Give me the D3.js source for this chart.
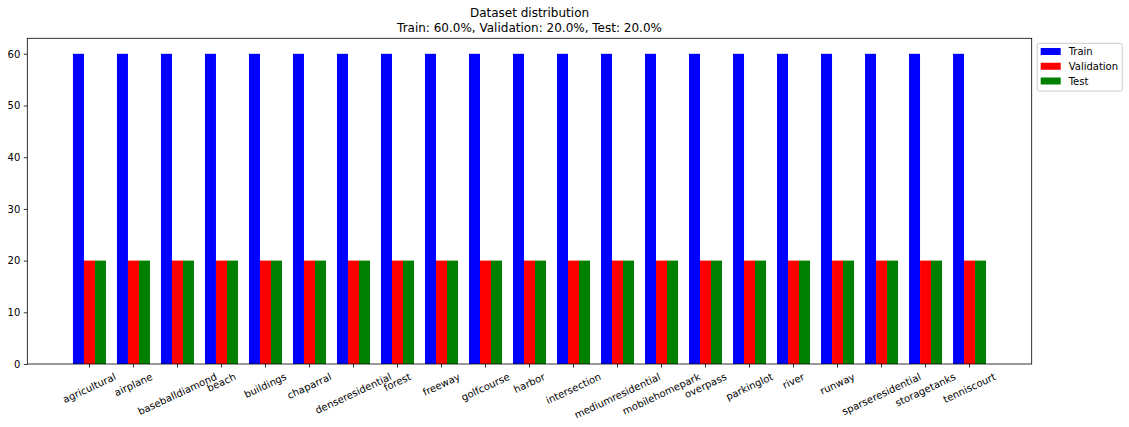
<!DOCTYPE html>
<html>
<head>
<meta charset="utf-8">
<script src="https://cdn.jsdelivr.net/npm/d3@7"></script>
<style>
    body { margin: 0; background: white; }
    text { font-family: "DejaVu Sans", sans-serif; }
</style>
</head>
<body>
<div id="chart"></div>
<script>
// data
const categories = ["agricultural", "airplane", "baseballdiamond", "beach", "buildings", "chaparral",
    "denseresidential", "forest", "freeway", "golfcourse", "harbor", "intersection",
    "mediumresidential", "mobilehomepark", "overpass", "parkinglot", "river", "runway",
    "sparseresidential", "storagetanks", "tenniscourt"];
const trainCounts = [60, 60, 60, 60, 60, 60, 60, 60, 60, 60, 60, 60, 60, 60, 60, 60, 60, 60, 60, 60, 60];
const valCounts = [20, 20, 20, 20, 20, 20, 20, 20, 20, 20, 20, 20, 20, 20, 20, 20, 20, 20, 20, 20, 20];
const testCounts = [20, 20, 20, 20, 20, 20, 20, 20, 20, 20, 20, 20, 20, 20, 20, 20, 20, 20, 20, 20, 20];
const seriesNames = ["Train", "Validation", "Test"];
const seriesColors = ["blue", "red", "green"];
const yTicks = [0, 10, 20, 30, 40, 50, 60];
const titleLines = ["Dataset distribution", "Train: 60.0%, Validation: 20.0%, Test: 20.0%"];

//dimensions
const w = 1129, h = 427;
const margin = { left: 27.3, right: 97.3, top: 38.3, bottom: 63 };
const gw = w - margin.left - margin.right;
const gh = h - margin.top - margin.bottom;
const barW = 0.25;

const svg = d3.select("#chart")
    .append("svg")
    .attr("width", w)
    .attr("height", h);

const graph = svg.append("g")
    .attr("transform", `translate(${margin.left},${margin.top})`);

//scales, matplotlib-like 5% x margins
const lo = -1.5 * barW, hi = categories.length - 1 + 1.5 * barW;
const pad = (hi - lo) * 0.05;
const xScale = d3.scaleLinear().domain([lo - pad, hi + pad]).range([0, gw]);
const yScale = d3.scaleLinear().domain([0, 63]).range([gh, 0]);

//bars
const series = [trainCounts, valCounts, testCounts];
series.forEach((vals, s) => {
    graph.append("g")
        .selectAll("rect")
        .data(vals)
        .enter()
        .append("rect")
        .attr("x", (d, i) => xScale(i + (s - 1) * barW - barW / 2))
        .attr("width", xScale(barW) - xScale(0))
        .attr("y", d => yScale(d))
        .attr("height", d => gh - yScale(d))
        .attr("fill", seriesColors[s]);
});

//y axis
const yaxis = d3.axisLeft(yScale).tickValues(yTicks).tickSize(3.5).tickPadding(3.5);
const ygrp = graph.append("g").call(yaxis);
ygrp.select(".domain").remove();
ygrp.selectAll("line").attr("stroke", "black").attr("stroke-width", 0.8);
ygrp.selectAll("text")
    .attr("font-size", "10px")
    .attr("font-family", "DejaVu Sans")
    .attr("fill", "black");

//x axis ticks
const xgrp = graph.append("g").attr("transform", `translate(0,${gh})`);
xgrp.selectAll("line")
    .data(categories)
    .enter()
    .append("line")
    .attr("x1", (d, i) => xScale(i))
    .attr("x2", (d, i) => xScale(i))
    .attr("y1", 0)
    .attr("y2", 3.5)
    .attr("stroke", "black")
    .attr("stroke-width", 0.8);

//rotated labels, bbox centred on tick like matplotlib
const ang = 25 * Math.PI / 180;
const lh = 11.6;
xgrp.selectAll("text")
    .data(categories)
    .enter()
    .append("text")
    .text(d => d)
    .attr("font-size", "10px")
    .attr("fill", "black")
    .attr("text-anchor", "middle")
    .attr("dy", "0.32em")
    .each(function (d, i) {
        const L = this.getComputedTextLength();
        const bh = L * Math.sin(ang) + lh * Math.cos(ang);
        const cx = xScale(i), cy = 7 + bh / 2;
        d3.select(this).attr("transform", `translate(${cx},${cy}) rotate(-25)`);
    });

//frame
graph.append("rect")
    .attr("width", gw)
    .attr("height", gh)
    .attr("fill", "none")
    .attr("stroke", "black")
    .attr("stroke-width", 0.8);

//title
svg.selectAll(".title")
    .data(titleLines)
    .enter()
    .append("text")
    .attr("class", "title")
    .text(d => d)
    .attr("x", margin.left + gw / 2)
    .attr("y", (d, i) => 17.3 + i * 14.4)
    .attr("text-anchor", "middle")
    .attr("font-size", "12px")
    .attr("fill", "black");

//legend
const lg = svg.append("g").attr("transform", `translate(${margin.left + gw + 5},${margin.top + 5})`);
lg.append("rect")
    .attr("x", 0.5)
    .attr("y", 0)
    .attr("width", 85)
    .attr("height", 47.7)
    .attr("rx", 2)
    .attr("fill", "white")
    .attr("fill-opacity", 0.8)
    .attr("stroke", "#cccccc")
    .attr("stroke-width", 1);
const items = lg.selectAll(".item")
    .data(seriesNames)
    .enter()
    .append("g")
    .attr("transform", (d, i) => `translate(4,${8.2 + i * 14.75})`);
items.append("rect")
    .attr("x", 0)
    .attr("y", -3.5)
    .attr("width", 20)
    .attr("height", 7)
    .attr("fill", (d, i) => seriesColors[i]);
items.append("text")
    .text(d => d)
    .attr("x", 28)
    .attr("y", 3.6)
    .attr("font-size", "10px")
    .attr("fill", "black");
</script>
</body>
</html>
